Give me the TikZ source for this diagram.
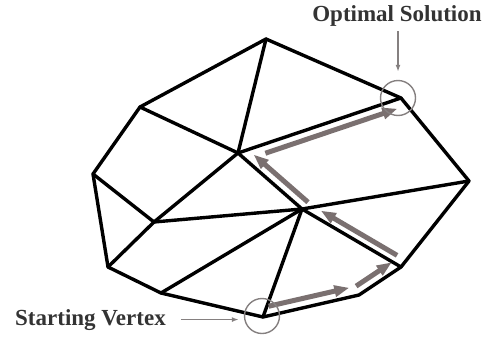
\documentclass[tikz,border=0pt]{standalone}
\usepackage{fontspec}
\setmainfont{Liberation Serif}
\usepackage{tikz}
\usetikzlibrary{arrows.meta,positioning,calc}
\definecolor{walkgray}{HTML}{7A7070}
\definecolor{ringgray}{HTML}{858080}
\definecolor{labelgray}{HTML}{333333}

\begin{document}
\begin{tikzpicture}[x=1pt, y=-1pt,
    edge/.style={line width=3.4pt, line join=round, line cap=round},
    walk/.style={line width=5pt, draw=walkgray, -{Triangle[length=15pt,width=11pt]}},
    ring/.style={circle, draw=ringgray, line width=1.4pt, minimum size=35pt, inner sep=0pt},
    pointer/.style={draw=ringgray, line width=1.4pt, -{Latex[length=7pt,width=5pt]}},
    caption/.style={font=\fontsize{23}{27}\selectfont\bfseries, text=labelgray, inner sep=0pt}]
  \useasboundingbox (0,0) rectangle (490,343);

  % vertices of the feasible region
  \coordinate (T)   at (266,39);
  \coordinate (O)   at (401,98);
  \coordinate (R)   at (469,181);
  \coordinate (BR2) at (401,267);
  \coordinate (BR1) at (359,295);
  \coordinate (B)   at (263,317);
  \coordinate (BL)  at (161,293);
  \coordinate (LL)  at (108,267);
  \coordinate (L)   at (93,174);
  \coordinate (UL)  at (140,107);
  \coordinate (C1)  at (238,153);
  \coordinate (C2)  at (302,209);
  \coordinate (C3)  at (154,222);

  % outline
  \draw[edge] (T) -- (O) -- (R) -- (BR2) -- (BR1) -- (B) -- (BL) -- (LL) -- (L) -- (UL) -- cycle;
  % inner edges
  \draw[edge] (UL) -- (C1);
  \draw[edge] (T) -- (C1);
  \draw[edge] (C1) -- (O);
  \draw[edge] (C1) -- (C3);
  \draw[edge] (C1) -- (C2);
  \draw[edge] (L) -- (C3);
  \draw[edge] (LL) -- (C3);
  \draw[edge] (C3) -- (C2);
  \draw[edge] (C2) -- (R);
  \draw[edge] (C2) -- (BL);
  \draw[edge] (C2) -- (B);
  \draw[edge] (C2) -- (BR2);

  % path of the walk
  \draw[walk] ($(B)!0.08!(BR1)+(-2,-9)$) -- ($(B)!0.92!(BR1)+(-2,-9)$);
  \draw[walk] ($(BR1)!0.05!(BR2)+(-5,-7.5)$) -- ($(BR1)!0.9!(BR2)+(-5,-7.5)$);
  \draw[walk] ($(BR2)!0.08!(C2)+(4,-7)$) -- ($(BR2)!0.85!(C2)+(4,-7)$);
  \draw[walk] ($(C2)!0.0!(C1)+(6,-6.8)$) -- ($(C2)!0.85!(C1)+(6,-6.8)$);
  \draw[walk] ($(C1)!0.15!(O)+(2.9,8.5)$) -- ($(C1)!0.96!(O)+(2.9,8.5)$);

  % marks and labels
  \node[ring] (optring) at (398,98) {};
  \node[ring] (startring) at (262,316) {};
  \node[caption, anchor=base] (optlabel) at (397,21) {Optimal Solution};
  \node[caption, anchor=base west] (startlabel) at (15,325) {Starting Vertex};
  \draw[pointer, shorten <=5pt, shorten >=8pt] (optlabel.south -| optring.north) -- (optring.north);
  \draw[pointer, shorten <=15pt, shorten >=5pt] (startlabel.east) -- (startlabel.east -| startring.west);
\end{tikzpicture}
\end{document}
